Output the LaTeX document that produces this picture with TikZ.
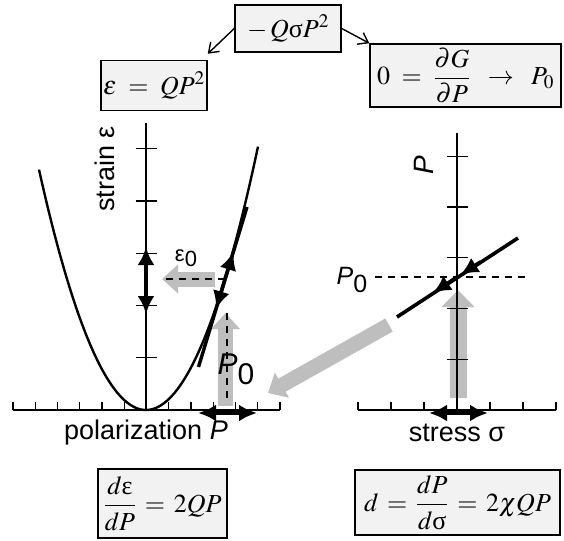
\documentclass[tikz,border=0pt]{standalone}
\usepackage{amsmath}
\usepackage{mathptmx}
\usepackage[no-math]{fontspec}
\setmainfont{Liberation Serif}
\setsansfont{Liberation Sans}
\usetikzlibrary{arrows.meta,calc,positioning}
\definecolor{boxfill}{RGB}{242,242,242}
\definecolor{arrgray}{RGB}{190,190,190}

\begin{document}
\begin{tikzpicture}[
      x=1pt, y=-1pt,
      eqbox/.style={draw, line width=1.5pt, fill=boxfill, inner sep=0pt, align=center, font=\fontsize{26}{30}\selectfont},
      lab/.style={font=\sffamily\fontsize{27}{30}\selectfont, inner sep=0pt},
      ax/.style={line width=1.8pt},
      axtick/.style={line width=1.4pt},
      curve/.style={line width=2.4pt},
      guide/.style={dash pattern=on 7pt off 6pt, line width=1.6pt},
      boxarr/.style={-{Straight Barb[length=9pt,width=13pt]}, line width=1.4pt},
      blkarr/.style={-{Latex[length=18pt,width=17pt]}, line width=3.6pt},
      grayarr/.style={-{Triangle[length=16pt,width=28pt]}, line width=15pt, draw=arrgray}
    ]
      \useasboundingbox (0,0) rectangle (564,540);

      % equations
      \node[eqbox, minimum width=106pt, minimum height=47pt] (coup) at (288,28.5) {$-\,Q\textrm{σ}P^2$};
      \node[eqbox, minimum width=106pt, minimum height=50pt] (strain) at (154,85.5) {$\varepsilon \;=\; QP^2$};
      \node[eqbox, minimum width=191pt, minimum height=63pt] (equil) at (465.5,75.5) {$0 \;=\; \dfrac{\partial G}{\partial P} \;\;\rightarrow\;\; P_0$};
      \node[eqbox, minimum width=129pt, minimum height=69pt] (slope) at (162.5,503.5) {$\dfrac{d\textrm{ε}}{dP} \,=\, 2QP$};
      \node[eqbox, minimum width=205pt, minimum height=65pt] (piezo) at (457.5,502.5) {$d \,=\, \dfrac{dP}{d\textrm{σ}} \,=\, 2\chi QP$};

      \draw[boxarr] (coup.west) -- ([yshift=6pt]strain.north east);
      \draw[boxarr] (coup.east) -- (equil.north west);

      \coordinate (L0) at (146,410);
      \coordinate (T) at (225,279);
      \coordinate (E0) at (146,279);
      \coordinate (R0) at (457,410);
      \coordinate (C) at (457,277);
      \coordinate (Rlo) at (397,317);
      \coordinate (Rhi) at (518,238);

      % gray arrows
      \draw[grayarr] (215,279) -- (162,279);
      \draw[grayarr] (225.5,406) -- (225.5,313);
      \draw[grayarr, line width=17pt, -{Triangle[length=17pt,width=32pt]}] (458,398) -- (458,290);
      \draw[grayarr] (389,325) -- (268,393);

      % strain vs polarization
      \draw[ax] (13,410) -- (280,410);
      \draw[ax] (L0) -- (146,123);
      \foreach \i in {0,...,12}
        \draw[axtick] ({13+22.25*\i},410) -- ++(0,-8);
      \foreach \i in {1,...,5}
        \draw[axtick] (135.5,{410-52.25*\i}) -- ++(21,0);
      \draw[curve] plot[domain=-107:112, samples=80, smooth] ({146+\x},{410-0.021*\x*\x});
      \draw[line width=3.4pt] (198.5,367) -- (247,207);
      \draw[guide] (T) -- (164,279);
      \draw[guide] (227,313) -- (227,404);
      \draw[blkarr] (T) -- (233.5,252);
      \draw[blkarr] (T) -- (216,309);
      \draw[blkarr] (E0) -- (146,247);
      \draw[blkarr] (E0) -- (146,314);
      \draw[blkarr] (227,413) -- (198,413);
      \draw[blkarr] (227,413) -- (257,413);

      % polarization vs stress
      \draw[ax] (358,410) -- (556,410);
      \draw[ax] (R0) -- (457,133);
      \foreach \i in {0,...,6}
        \draw[axtick] ({358+33*\i},410) -- ++(0,-8);
      \foreach \i in {1,...,5}
        \draw[axtick] (446.5,{410-50.75*\i}) -- ++(21,0);
      \draw[guide] (375,277) -- (530,277);
      \draw[line width=3.6pt] (Rlo) -- (Rhi);
      \draw[blkarr] ($(C)!28pt!(Rhi)$) -- ($(C)!4pt!(Rhi)$);
      \draw[blkarr] (C) -- ($(C)!29pt!(Rlo)$);
      \draw[blkarr] (458,413) -- (429,413);
      \draw[blkarr] (458,413) -- (488,413);

      % labels
      \node[lab, rotate=90] (ylabL) at (105,169) {strain ε};
      \node[lab, rotate=90, font=\sffamily\fontsize{28}{30}\selectfont] (ylabR) at (424,165) {\textit{P}};
      \node[lab] (xlabL) at (146,433) {polarization \textit{P}};
      \node[lab] (xlabR) at (457,433) {stress σ};
      \node[lab, font=\sffamily\fontsize{30}{34}\selectfont] (p0L) at (236,369) {\textit{P}\raisebox{-10pt}{0}};
      \node[lab, font=\sffamily\fontsize{25}{28}\selectfont] (p0R) at (352,280) {\textit{P}\raisebox{-8pt}{0}};
      \node[lab, font=\sffamily\fontsize{22}{24}\selectfont] (e0) at (186,258) {ε\raisebox{-5pt}{0}};
    \end{tikzpicture}
\end{document}
